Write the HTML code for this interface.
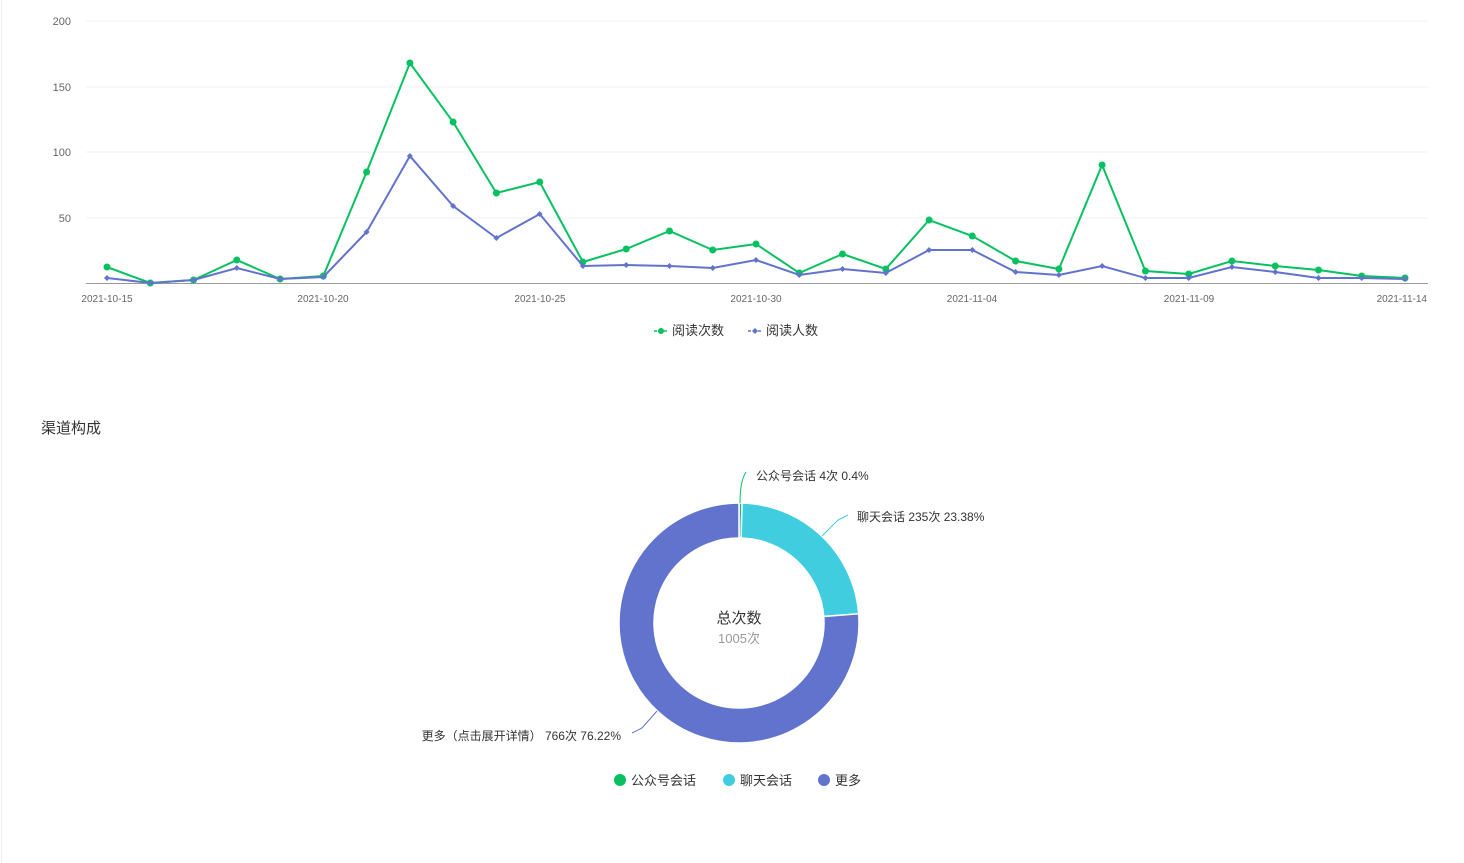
<!DOCTYPE html>
<html><head><meta charset="utf-8"><style>
body{margin:0;background:#fff;width:1464px;height:863px;overflow:hidden;font-family:"Liberation Sans","Noto Sans CJK SC",sans-serif}
</style></head><body>
<svg id="s" width="1464" height="863" xmlns="http://www.w3.org/2000/svg" style="position:absolute;left:0;top:0">
<line x1="1.5" y1="0" x2="1.5" y2="863" stroke="#eee"/>
<g stroke="#f0f0f0" stroke-width="1">
<line x1="86" y1="21" x2="1428" y2="21"/><line x1="86" y1="87" x2="1428" y2="87"/>
<line x1="86" y1="152" x2="1428" y2="152"/><line x1="86" y1="218" x2="1428" y2="218"/>
</g>
<line x1="86" y1="283.5" x2="1428" y2="283.5" stroke="#999"/>
<g font-size="11" fill="#666" text-anchor="end">
<text x="71" y="25">200</text><text x="71" y="91">150</text><text x="71" y="156">100</text><text x="71" y="222">50</text>
</g>
<g font-size="10" fill="#666" text-anchor="middle">
<text x="107" y="302">2021-10-15</text><text x="323" y="302">2021-10-20</text><text x="540" y="302">2021-10-25</text>
<text x="756" y="302">2021-10-30</text><text x="972" y="302">2021-11-04</text><text x="1189" y="302">2021-11-09</text>
<text x="1427" y="302" text-anchor="end">2021-11-14</text>
</g>
<g id="lines"></g>
<g font-size="13" fill="#333">
<line x1="654" y1="331" x2="668" y2="331" stroke="#07c160" stroke-width="1.5" stroke-dasharray="3,2"/><circle cx="661" cy="331" r="3" fill="#07c160"/>
<text x="672" y="335">阅读次数</text>
<line x1="748" y1="331" x2="762" y2="331" stroke="#6173cd" stroke-width="1.5" stroke-dasharray="3,2"/><path d="M755 328 L758 331 L755 334 L752 331Z" fill="#6173cd"/>
<text x="766" y="335">阅读人数</text>
</g>
<text x="41" y="433" font-size="15" fill="#333">渠道构成</text>
<g id="donut"></g>
<text x="739" y="623" font-size="15" fill="#333" text-anchor="middle">总次数</text>
<text x="739" y="643" font-size="13" fill="#999" text-anchor="middle">1005次</text>
<path d="M740 503 C740 490 742 478 746 472" stroke="#07c160" fill="none"/>
<path d="M822 536 L838 520 L848 515" stroke="#40cde0" fill="none"/>
<path d="M657 711 L642 728 L632 733" stroke="#6173cd" fill="none"/>
<g font-size="12" fill="#333">
<text x="756" y="480">公众号会话 4次 0.4%</text>
<text x="857" y="521">聊天会话 235次 23.38%</text>
<text x="621" y="740" text-anchor="end">更多（点击展开详情） 766次 76.22%</text>
</g>
<g font-size="13" fill="#333">
<circle cx="620" cy="780" r="6" fill="#07c160"/><text x="631" y="785">公众号会话</text>
<circle cx="729" cy="780" r="6" fill="#40cde0"/><text x="740" y="785">聊天会话</text>
<circle cx="824" cy="780" r="6" fill="#6173cd"/><text x="835" y="785">更多</text>
</g>
</svg>
<script>
var g=[267,283,280,260,279,276,172,63,122,193,182,262,249,231,250,244,273,254,269,220,236,261,269,165,271,274,261,266,270,276,278];
var b=[278,283,280,268,279,277,232,156,206,238,214,266,265,266,268,260,275,269,273,250,250,272,275,266,278,278,267,272,278,278,279];
var L=document.getElementById('lines'),h='';
function X(i){return 107+i*43.267;}
function ser(a,c,r,dia){var d=a.map(function(y,i){return (i?'L':'M')+X(i).toFixed(1)+' '+y;}).join(' ');
h+='<path d="'+d+'" stroke="'+c+'" stroke-width="2" fill="none"/>';
a.forEach(function(y,i){var x=X(i);
if(dia)h+='<path d="M'+x+' '+(y-r)+' L'+(x+r)+' '+y+' L'+x+' '+(y+r)+' L'+(x-r)+' '+y+'Z" fill="'+c+'"/>';
else h+='<circle cx="'+x.toFixed(1)+'" cy="'+y+'" r="'+r+'" fill="'+c+'"/>';});}
ser(g,'#07c160',3.5,false);ser(b,'#6173cd',3,true);
L.innerHTML=h;
var cx=739,cy=623,R=120,r=85,fr=[0.004,0.2338,0.7622],cs=['#07c160','#40cde0','#6173cd'],a0=0,dh='';
function P(a,rr){return [cx+rr*Math.sin(a),cy-rr*Math.cos(a)];}
fr.forEach(function(f,i){var a1=a0+f*2*Math.PI,lg=f>0.5?1:0;
var p1=P(a0,R),p2=P(a1,R),p3=P(a1,r),p4=P(a0,r);
dh+='<path d="M'+p1+' A'+R+' '+R+' 0 '+lg+' 1 '+p2+' L'+p3+' A'+r+' '+r+' 0 '+lg+' 0 '+p4+'Z" fill="'+cs[i]+'" stroke="#fff" stroke-width="1.5"/>';a0=a1;});
document.getElementById('donut').innerHTML=dh;
</script>
</body></html>
